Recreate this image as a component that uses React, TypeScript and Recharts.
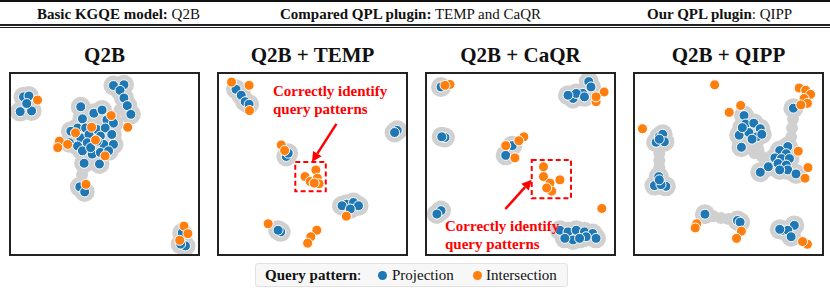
import React from 'react';
import { ScatterChart, Scatter, XAxis, YAxis, ReferenceArea, ReferenceLine } from 'recharts';

type Pt = [number, number];

// coordinates in % of each panel box (x to the right, y downwards)
const q2bProj: Pt[] = [
  [6.7, 12.7], [9.6, 12.2], [4.9, 20.9], [11, 20.5], [8.4, 16.4],
  [54.8, 6.4], [60.4, 6], [58.3, 9.1], [60.4, 13.3], [62.2, 17.6], [64.1, 22.4],
  [37.3, 18.2], [38.2, 24.9], [44.3, 21.8], [48.7, 20], [51.3, 25.5], [54.8, 27.3],
  [35.6, 30], [39.9, 30], [46.1, 30.9], [50.4, 30], [32, 31.8], [37.3, 35.5],
  [41.7, 33.6], [47.8, 34.5], [53.9, 33.6], [31.2, 38.2], [35.6, 40], [40.8, 38.2],
  [49.6, 39.1], [54.8, 39.1], [38.2, 42.7], [43.4, 44.5], [47.8, 43.6], [52.2, 42.7],
  [39.1, 49.6], [47.3, 50], [42.6, 40.9], [46.1, 37.3],
  [36.8, 62.7], [39.4, 65.5],
  [91.6, 88.2], [93.3, 95.5], [90.7, 94.5],
];
const q2bInter: Pt[] = [
  [14.2, 14.5], [62.4, 29.6], [53.6, 23.1], [43.1, 29.6], [34.5, 32.7], [45.2, 36.7],
  [25.9, 37.3], [25, 40.9], [30.3, 39.1], [50.3, 45.5], [40.1, 61.3],
  [92.5, 84.5], [94.6, 88.7], [90.2, 92.4],
];
const q2bBridge: Pt[] = [[38, 56], [26, 38], [58, 20]];

const tempProj: Pt[] = [
  [9.1, 8.5], [11.9, 11.8], [14, 15.4], [16.1, 16.8],
  [95.3, 31.3], [93.9, 32.5],
  [36, 45.8], [37, 44],
  [68.4, 72.3], [71.9, 71.4], [65.8, 73.2], [74.6, 73.2], [70.2, 75],
  [33, 87.7], [31.6, 86.8],
];
const tempInter: Pt[] = [
  [6.7, 4.5], [16.1, 6.3], [16.3, 20.3],
  [33.3, 39.4], [35.1, 42.5],
  [46, 57], [51.8, 53.3], [48.8, 59.7], [52.6, 57.9], [53.5, 61], [50.9, 60.6],
  [68.1, 79], [26.3, 83.2],
  [52.3, 86.8], [49.1, 90.4], [47.4, 94],
];

const caqrProj: Pt[] = [
  [7.5, 7.2],
  [86.5, 4.2], [87.7, 7.2], [78.1, 13.6], [83.3, 10.8], [79.8, 10.8], [84.2, 12.7], [75.4, 11.8],
  [9.6, 35.3], [7.9, 34.9],
  [42.1, 45.2], [45.6, 39.8],
  [7.5, 75.9], [5.3, 77.8],
  [71.1, 86.8], [75.4, 87.7], [79.8, 86.8], [84.2, 87.7], [88.6, 88.6], [90.4, 91.3],
  [78.1, 92.2], [73.7, 91.3], [85.1, 90.4], [81.6, 91.3],
];
const caqrInter: Pt[] = [
  [12.3, 5.8], [9.6, 6.3],
  [94.7, 10], [90.4, 15.4], [90.4, 12.7],
  [51.8, 34.9], [49.1, 37.1], [42.1, 39.8], [47, 46.6],
  [62.3, 51.5], [62.3, 57], [65.8, 60.6], [71.1, 58.8], [66.7, 65.1], [64, 63.3],
  [93.5, 74.7],
];

const qippProj: Pt[] = [
  [84.7, 19],
  [13, 34.9], [14.8, 33.5], [11.3, 37.9], [15.7, 37.6], [13, 36.2],
  [12.7, 57], [10.4, 62], [16.5, 62.4], [13.9, 61.5], [13, 58.8],
  [58.3, 23.1], [59.1, 27.8], [63.5, 27.3], [67, 30.4], [55.7, 34], [60.9, 32.5],
  [65.2, 34.9], [62.6, 36.2], [56.9, 40.7], [57.4, 29.8], [67.8, 33.5],
  [81.7, 40.3], [77.4, 42.5], [80.9, 44.3], [74.8, 46.6], [78.3, 47], [82.6, 47],
  [71.3, 51.5], [67, 54.6], [76.5, 49.7], [80.9, 50.6], [81.7, 53.3], [86.1, 55.5], [77.4, 53.3],
  [37.4, 77.9], [54.8, 81.4], [56.2, 82.3],
  [85.2, 84.1], [79.1, 86.8], [81.7, 86.8], [83.5, 90.4], [77.4, 86.3],
];
const qippInter: Pt[] = [
  [42.6, 6], [87.8, 7.8], [91.3, 9], [93.9, 11.3], [90.4, 13.6], [92.2, 16.3], [88.7, 17.2],
  [56.5, 17.5], [50.4, 21.3], [4, 30.4],
  [87.3, 42.9], [92.5, 52], [90.9, 57.9],
  [33, 83.2], [32.2, 85.5], [56.9, 87.3], [54.3, 91.3],
  [92.2, 94.6], [89.6, 93.1],
];
const qippBridge: Pt[] = [
  [13, 44], [13, 48], [13, 52],
  [62, 40], [66, 42], [68, 46], [64, 44],
  [84.5, 25], [84, 30], [83.5, 35],
  [42, 79], [46, 80], [50, 80.5],
];

const titles = ['Q2B', 'Q2B + TEMP', 'Q2B + CaQR', 'Q2B + QIPP'];

const BLUE = '#1f77b4';
const ORANGE = '#ff7f0e';
const HALO = '#d0d0d0';
const RED = '#ff0000';

const rows = (pts: Pt[]) => pts.map(([x, y]) => ({ x, y }));

const dot = (fill: string) => (p: any) => (
  <circle cx={p.cx} cy={p.cy} r={5} fill={fill} stroke="#fff" strokeWidth={1} />
);
const halo = (r: number) => (p: any) => <circle cx={p.cx} cy={p.cy} r={r} fill={HALO} />;

const Arrow = (p: any) => {
  const { x1, y1, x2, y2 } = p;
  const a = Math.atan2(y2 - y1, x2 - x1);
  const L = 10;
  const W = 5;
  const bx = x2 - L * Math.cos(a);
  const by = y2 - L * Math.sin(a);
  const pts = `${x2},${y2} ${bx - W * Math.sin(a)},${by + W * Math.cos(a)} ${bx + W * Math.sin(a)},${by - W * Math.cos(a)}`;
  return (
    <g>
      <line x1={x1} y1={y1} x2={bx} y2={by} stroke={RED} strokeWidth={2.5} />
      <polygon points={pts} fill={RED} />
    </g>
  );
};

const BOX_W = 191;
const BOX_H = 184;
const BOX_TOP = 72;

function Panel({ idx, proj, inter, bridge, extra }: { idx: number; proj: Pt[]; inter: Pt[]; bridge?: Pt[]; extra?: React.ReactNode }) {
  const left = 9 + idx * 208;
  return (
    <>
      <div style={{ position: 'absolute', left, width: BOX_W, top: 40, textAlign: 'center', fontWeight: 'bold', fontSize: 21, lineHeight: '30px' }}>
        {titles[idx]}
      </div>
      <div style={{ position: 'absolute', left, top: BOX_TOP, width: BOX_W, height: BOX_H, border: '2px solid #222', boxSizing: 'border-box' }}>
        <ScatterChart width={BOX_W - 4} height={BOX_H - 4} margin={{ top: 0, right: 0, bottom: 0, left: 0 }}>
          <XAxis type="number" dataKey="x" domain={[0, 100]} hide />
          <YAxis type="number" dataKey="y" domain={[0, 100]} reversed hide />
          {bridge && <Scatter data={rows(bridge)} shape={halo(6)} isAnimationActive={false} />}
          <Scatter data={rows(proj)} shape={halo(10)} isAnimationActive={false} />
          <Scatter data={rows(proj)} shape={dot(BLUE)} isAnimationActive={false} />
          <Scatter data={rows(inter)} shape={dot(ORANGE)} isAnimationActive={false} />
          {extra}
        </ScatterChart>
      </div>
    </>
  );
}

const noteStyle: React.CSSProperties = {
  position: 'absolute', color: RED, fontWeight: 'bold', fontSize: 15, lineHeight: '18px', whiteSpace: 'nowrap',
};

export default function App() {
  return (
    <div style={{ position: 'absolute', left: 0, top: 0, width: 830, height: 293, background: '#fff', fontFamily: '"Liberation Serif", "Times New Roman", serif', color: '#111', overflow: 'hidden' }}>
      {/* header band */}
      <div style={{ position: 'absolute', left: 0, top: 0, width: 830, height: 2, background: '#111' }} />
      <div style={{ position: 'absolute', left: 0, top: 24, width: 830, height: 1.5, background: '#222' }} />
      <div style={{ position: 'absolute', left: 0, top: 26.5, width: 830, height: 1.5, background: '#222' }} />
      <div style={{ position: 'absolute', left: 37, top: 5, fontSize: 15, lineHeight: '18px', whiteSpace: 'nowrap' }}>
        <b>Basic KGQE model:</b> Q2B
      </div>
      <div style={{ position: 'absolute', left: 280, top: 5, fontSize: 15, lineHeight: '18px', whiteSpace: 'nowrap' }}>
        <b>Compared QPL plugin:</b> TEMP and CaQR
      </div>
      <div style={{ position: 'absolute', left: 647, top: 5, fontSize: 15, lineHeight: '18px', whiteSpace: 'nowrap' }}>
        <b>Our QPL plugin</b>: QIPP
      </div>

      <Panel idx={0} proj={q2bProj} inter={q2bInter} bridge={q2bBridge} />
      <Panel
        idx={1}
        proj={tempProj}
        inter={tempInter}
        extra={[
          <ReferenceArea key="box" x1={40.8} x2={57.1} y1={48.9} y2={65.2} fill="none" fillOpacity={0} stroke={RED} strokeWidth={2} strokeDasharray="5 3" />,
          <ReferenceLine key="arr" segment={[{ x: 62.8, y: 27.7 }, { x: 49.7, y: 48.9 }]} shape={Arrow} />,
        ]}
      />
      <Panel
        idx={2}
        proj={caqrProj}
        inter={caqrInter}
        extra={[
          <ReferenceArea key="box" x1={56} x2={77} y1={47.8} y2={69} fill="none" fillOpacity={0} stroke={RED} strokeWidth={2} strokeDasharray="5 3" />,
          <ReferenceLine key="arr" segment={[{ x: 41.9, y: 75 }, { x: 56, y: 58.7 }]} shape={Arrow} />,
        ]}
      />
      <Panel idx={3} proj={qippProj} inter={qippInter} bridge={qippBridge} />

      <div style={{ ...noteStyle, left: 273, top: 82 }}>Correctly identify<br />query patterns</div>
      <div style={{ ...noteStyle, left: 445, top: 217 }}>Correctly identify<br />query patterns</div>

      {/* legend */}
      <div style={{ position: 'absolute', left: 255, top: 263, width: 313, height: 24, boxSizing: 'border-box', background: '#f7f7f7', border: '1px solid #e2e2e2', borderRadius: 3, fontSize: 15, lineHeight: '22px', whiteSpace: 'nowrap' }}>
        <span style={{ position: 'absolute', left: 9 }}><b>Query pattern</b>:</span>
        <span style={{ position: 'absolute', left: 122, top: 7, width: 9, height: 9, borderRadius: '50%', background: BLUE }} />
        <span style={{ position: 'absolute', left: 136 }}>Projection</span>
        <span style={{ position: 'absolute', left: 217, top: 7, width: 9, height: 9, borderRadius: '50%', background: ORANGE }} />
        <span style={{ position: 'absolute', left: 230 }}>Intersection</span>
      </div>
    </div>
  );
}
